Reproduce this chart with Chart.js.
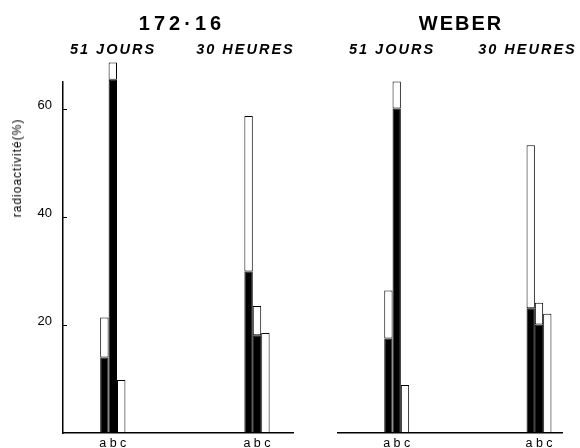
<!DOCTYPE html>
<html>
<head>
<meta charset="utf-8">
<script src="https://cdn.jsdelivr.net/npm/chart.js@4/dist/chart.umd.min.js"></script>
<style>
  html,body{margin:0;padding:0;background:#fff;overflow:hidden;}
  #wrap{position:relative;width:580px;height:448px;font-family:"Liberation Sans",Arial,sans-serif;color:#000;}
  canvas{position:absolute;top:0;}
  .t{position:absolute;white-space:nowrap;transform:translate(-50%,-50%);line-height:1;}
  .title{font-size:20px;font-weight:bold;}
  .sub{font-size:14.5px;font-weight:bold;font-style:italic;letter-spacing:2px;padding-left:2px;}
  .ylab{font-size:12px;letter-spacing:1px;color:#000;transform:translate(-50%,-50%) rotate(-90deg);}
</style>
</head>
<body>
<div id="wrap">
  <canvas id="c1" width="300" height="448" style="left:0;width:300px;height:448px"></canvas>
  <canvas id="c2" width="280" height="448" style="left:300px;width:280px;height:448px"></canvas>
</div>
<script>
// ---- data ----
const panels = ['172·16', 'WEBER'];
const groups = ['51 JOURS', '30 HEURES'];
const barNames = ['a', 'b', 'c'];
const yTickValues = [20, 40, 60];
const yTitle = 'radioactivité(%)';

// panel 1 : 172·16  (values per group: [51 JOURS, 30 HEURES])
const p1_black_a = [14.0, 29.9];
const p1_white_a = [7.4, 28.8];
const p1_black_b = [65.4, 18.1];
const p1_white_b = [3.2, 5.4];
const p1_black_c = [0, 0];
const p1_white_c = [9.8, 18.5];

// panel 2 : WEBER
const p2_black_a = [17.5, 23.1];
const p2_white_a = [8.9, 30.2];
const p2_black_b = [60.1, 20.1];
const p2_white_b = [5.0, 4.0];
const p2_black_c = [0, 0];
const p2_white_c = [8.9, 22.1];

// ---- text ----
const wrap = document.getElementById('wrap');
function addText(txt, cls, x, y, extra) {
  const d = document.createElement('div');
  d.className = 't ' + cls;
  d.textContent = txt;
  d.style.left = x + 'px';
  d.style.top = y + 'px';
  if (extra) Object.assign(d.style, extra);
  wrap.appendChild(d);
}
addText(panels[0], 'title', 180, 23, {letterSpacing: '4px', paddingLeft: '4px'});
addText(panels[1], 'title', 460, 23, {letterSpacing: '2px', paddingLeft: '2px'});
addText(groups[0], 'sub', 112, 49);
addText(groups[1], 'sub', 244.5, 49);
addText(groups[0], 'sub', 391, 49);
addText(groups[1], 'sub', 526.5, 49);
addText(yTitle, 'ylab', 17, 168);

// ---- charts ----
function toPts(arr) { return arr.map((v, i) => ({x: i + 1, y: v})); }

function makeDatasets(bl, wh) {
  const ds = [];
  barNames.forEach((n, k) => {
    ds.push({label: n + ' noir', stack: n, data: toPts(bl[k]), backgroundColor: '#000',
             borderColor: '#000', borderWidth: 1, borderSkipped: false, clip: false});
    ds.push({label: n + ' blanc', stack: n, data: toPts(wh[k]), backgroundColor: '#fff',
             borderColor: '#000', borderWidth: 1, borderSkipped: false, clip: false});
  });
  return ds;
}

const innerTicks = {
  id: 'innerTicks',
  afterDraw(chart) {
    const y = chart.scales.y;
    if (!y.options.display) return;
    const ctx = chart.ctx;
    ctx.save();
    ctx.strokeStyle = '#000';
    ctx.lineWidth = 1;
    y.ticks.forEach(t => {
      const p = Math.round(y.getPixelForValue(t.value)) + 0.5;
      ctx.beginPath();
      ctx.moveTo(y.right, p);
      ctx.lineTo(y.right + 4, p);
      ctx.stroke();
    });
    ctx.restore();
  }
};

function makeChart(id, bl, wh, showY, xmin, xmax, pad) {
  return new Chart(document.getElementById(id), {
    type: 'bar',
    data: {datasets: makeDatasets(bl, wh)},
    plugins: [innerTicks],
    options: {
      responsive: false,
      animation: false,
      events: [],
      layout: {padding: pad},
      categoryPercentage: 0.175,
      barPercentage: 1.0,
      plugins: {legend: {display: false}, tooltip: {enabled: false}, title: {display: false}},
      scales: {
        x: {
          type: 'linear',
          min: xmin, max: xmax,
          offset: false,
          grid: {display: false, drawTicks: false},
          border: {display: true, color: '#000', width: 1.5},
          afterBuildTicks: s => { s.ticks = groups.map((g, i) => ({value: i + 1})); },
          afterFit: s => { s.height = 15; s.paddingLeft = 0; s.paddingRight = 0; },
          ticks: {
            padding: 5,
            color: '#000',
            font: {family: '"Liberation Sans", Arial, sans-serif', size: 12.5, lineHeight: 0.9},
            callback: () => barNames.join(' ')
          }
        },
        y: {
          display: showY,
          stacked: true,
          min: 0, max: 65,
          grid: {display: false, drawTicks: false},
          border: {display: true, color: '#000', width: 1.5},
          afterBuildTicks: s => { s.ticks = yTickValues.map(v => ({value: v})); },
          afterFit: s => { if (showY) s.width = 63; s.paddingTop = 0; s.paddingBottom = 0; },
          ticks: {
            padding: 11,
            labelOffset: -4,
            color: '#000',
            font: {family: '"Liberation Sans", Arial, sans-serif', size: 13}
          }
        }
      }
    }
  });
}

makeChart('c1',
  [p1_black_a, p1_black_b, p1_black_c],
  [p1_white_a, p1_white_b, p1_white_c],
  true, 0.6546, 2.2497, {top: 82, right: 7, left: 0, bottom: 0});

makeChart('c2',
  [p2_black_a, p2_black_b, p2_black_c],
  [p2_white_a, p2_white_b, p2_white_c],
  false, 0.5875, 2.1616, {top: 82, right: 18, left: 38, bottom: 0});
</script>
</body>
</html>
